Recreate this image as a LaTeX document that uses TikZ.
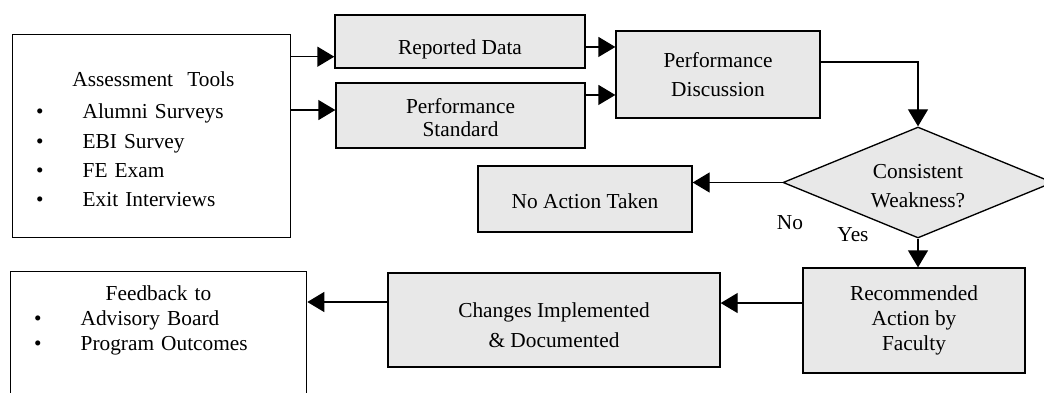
\documentclass[tikz,border=0pt]{standalone}
\usepackage{fontspec}
\setmainfont{Liberation Serif}
\usetikzlibrary{shapes.geometric,arrows.meta}

\definecolor{boxgray}{gray}{0.91}

\tikzset{
  box/.style={draw, line width=1pt, fill=boxgray, inner sep=0pt, align=center},
  listbox/.style={draw, line width=1pt, fill=white, inner sep=0pt, anchor=north west, align=left},
  arr/.style={line width=1pt, -{Triangle[length=12.75pt,width=15pt]}},
}

% bullet line inside the list boxes
\newcommand{\bulitem}[1]{\hspace*{17.5pt}\makebox[35pt][l]{\textbullet}#1}

\begin{document}
\begin{tikzpicture}[x=0.75pt, y=-0.75pt, font=\fontsize{16}{21.75}\selectfont]
\useasboundingbox (0,0) rectangle (1044,392);
\clip (0,0) rectangle (1044,392);

%% inputs
\node[listbox, text width=208.5pt, text height=38.6pt, text depth=113.6pt,
      font=\fontsize{16}{22.1}\selectfont] (tools) at (12,34)
  {\hspace*{44.8pt}Assessment\ \ Tools\\[2.25pt]
   \bulitem{Alumni Surveys}\\
   \bulitem{EBI Survey}\\
   \bulitem{FE Exam}\\
   \bulitem{Exit Interviews}};
\node[box, minimum width=187.5pt, minimum height=39.75pt, text height=20.2pt, text depth=0pt] (rep) at (460,41.5) {Reported Data};
\node[box, minimum width=186.75pt, minimum height=48.75pt, text height=32.25pt, text depth=0pt] (std) at (460.5,115.5) {Performance\\[-4.25pt]Standard};
\node[box, minimum width=153pt, minimum height=65.25pt] (disc) at (718,74.5) {Performance\\Discussion};

%% decision
\node[box, diamond, aspect=2.43, inner sep=1pt, minimum width=202.5pt, minimum height=83.25pt,
      text height=37.8pt, text depth=0pt] (weak) at (918,182.5) {Consistent\\Weakness?};
\node[box, minimum width=160.5pt, minimum height=49.5pt, text height=14.6pt, text depth=0pt] (noact) at (585,199) {No Action Taken};
\node (no) at (790,222.7) {No};
\node (yes) at (853,235) {Yes};

%% follow-up
\node[box, minimum width=166.5pt, minimum height=78.75pt] (rec) at (914,320.5) {Recommended\\[-3pt]Action by\\[-3pt]Faculty};
\node[box, minimum width=249pt, minimum height=70.5pt, text height=40.5pt, text depth=0pt] (chg) at (554,320) {Changes Implemented\\[0.75pt]\& Documented};
\node[listbox, text width=222pt, text height=21.5pt, text depth=97.7pt,
      font=\fontsize{16}{18.75}\selectfont] (fb) at (10,271)
  {\hspace*{71.3pt}Feedback to\\
   \bulitem{Advisory Board}\\
   \bulitem{Program Outcomes}};

%%------------
\draw[arr] ([yshift=-11.4pt]rep.west -| tools.east) -- ([yshift=-11.4pt]rep.west);
\draw[arr] ([yshift=4.1pt]std.west -| tools.east) -- ([yshift=4.1pt]std.west);
\draw[arr] ([yshift=-4.1pt]rep.east) -- ([yshift=-4.1pt]rep.east -| disc.west);
\draw[arr] ([yshift=15.4pt]std.east) -- ([yshift=15.4pt]std.east -| disc.west);
\draw[arr] ([yshift=9.4pt]disc.east) -| (weak.north);
\draw[arr] (weak.west) -- (weak.west -| noact.east);
\draw[arr] (weak.south) -- (weak.south |- rec.north);
\draw[arr] ([yshift=13.1pt]rec.west) -- ([yshift=13.1pt]rec.west -| chg.east);
\draw[arr] ([yshift=13.5pt]chg.west) -- ([yshift=13.5pt]chg.west -| fb.east);
\end{tikzpicture}
\end{document}
